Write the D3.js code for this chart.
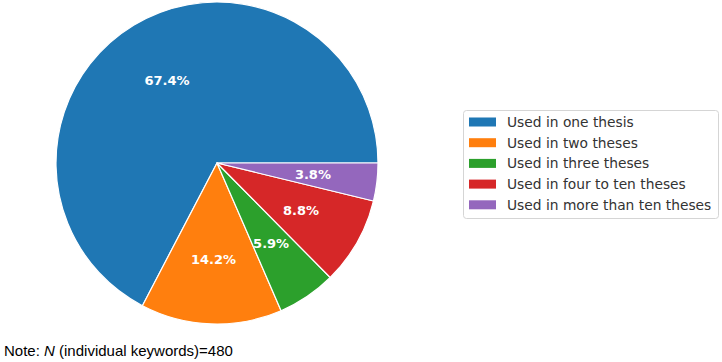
<!DOCTYPE html>
<html>
<head>
<meta charset="utf-8">
<script src="https://cdn.jsdelivr.net/npm/d3@7"></script>
<style>
  body { margin: 0; background: #fff; }
  svg { display: block; }
</style>
</head>
<body>
<div id="chart"></div>
<script>
// keyword usage shares
var categories = ["Used in one thesis", "Used in two theses", "Used in three theses",
                  "Used in four to ten theses", "Used in more than ten theses"];
var shares = [67.4, 14.2, 5.9, 8.8, 3.8];
var colors = ["#1f77b4", "#ff7f0e", "#2ca02c", "#d62728", "#9467bd"];

var width = 722, height = 362;
var cx = 217, cy = 163, radius = 161;

var svg = d3.select('#chart').append('svg')
      .attr('width', width)
      .attr('height', height);

var color = d3.scaleOrdinal().domain(categories).range(colors);

var data = categories.map(function (c, i) { return { label: c, value: shares[i] }; });

// start at 3 o'clock and go counterclockwise like matplotlib
var pie = d3.pie().sort(null).value(function (d) { return d.value; })
      .startAngle(Math.PI / 2).endAngle(Math.PI / 2 - 2 * Math.PI)(data);

var pieArc = d3.arc().outerRadius(radius).innerRadius(0);

var g = svg.append('g').attr('transform', 'translate(' + cx + ',' + cy + ')');

g.selectAll('path.slice').data(pie).enter().append('path')
      .attr('class', 'slice')
      .attr('d', pieArc)
      .style('fill', function (d) { return color(d.data.label); })
      .style('stroke', '#fff')
      .style('stroke-width', 1.2)
      .style('stroke-linejoin', 'round');

g.selectAll('text.pct').data(pie).enter().append('text')
      .attr('class', 'pct')
      .attr('transform', function (d) {
            var a = (d.startAngle + d.endAngle) / 2;
            var r = radius * 0.6;
            return 'translate(' + (Math.sin(a) * r) + ',' + (-Math.cos(a) * r) + ')';
      })
      .attr('text-anchor', 'middle')
      .attr('dy', '0.36em')
      .style('font-family', 'DejaVu Sans')
      .style('font-weight', 'bold')
      .style('font-size', '13px')
      .style('fill', '#fff')
      .text(function (d) { return d.data.value.toFixed(1) + '%'; });

// legend
var lx = 463, ly = 110, rowH = 20.7;
var legend = svg.append('g');
legend.append('rect')
      .attr('x', lx + 0.5).attr('y', ly + 0.5)
      .attr('width', 255).attr('height', 108)
      .attr('rx', 3).attr('ry', 3)
      .style('fill', '#fff')
      .style('stroke', '#d5d5d5');

var rows = legend.selectAll('g.row').data(categories).enter().append('g')
      .attr('class', 'row')
      .attr('transform', function (d, i) { return 'translate(' + (lx + 6) + ',' + (ly + 12 + i * rowH) + ')'; });
rows.append('rect')
      .attr('x', 0).attr('y', -4.5)
      .attr('width', 27).attr('height', 9)
      .style('fill', function (d) { return color(d); });
rows.append('text')
      .attr('x', 38).attr('dy', '0.36em')
      .style('font-family', 'DejaVu Sans')
      .style('font-size', '13.8px')
      .style('fill', '#333')
      .text(function (d) { return d; });

// note
var note = svg.append('text')
      .attr('x', 4).attr('y', 356)
      .style('font-family', 'Liberation Sans, Arial')
      .style('font-size', '15px')
      .style('fill', '#000');
note.append('tspan').text('Note: ');
note.append('tspan').style('font-style', 'italic').text('N');
note.append('tspan').text(' (individual keywords)=480');
</script>
</body>
</html>
